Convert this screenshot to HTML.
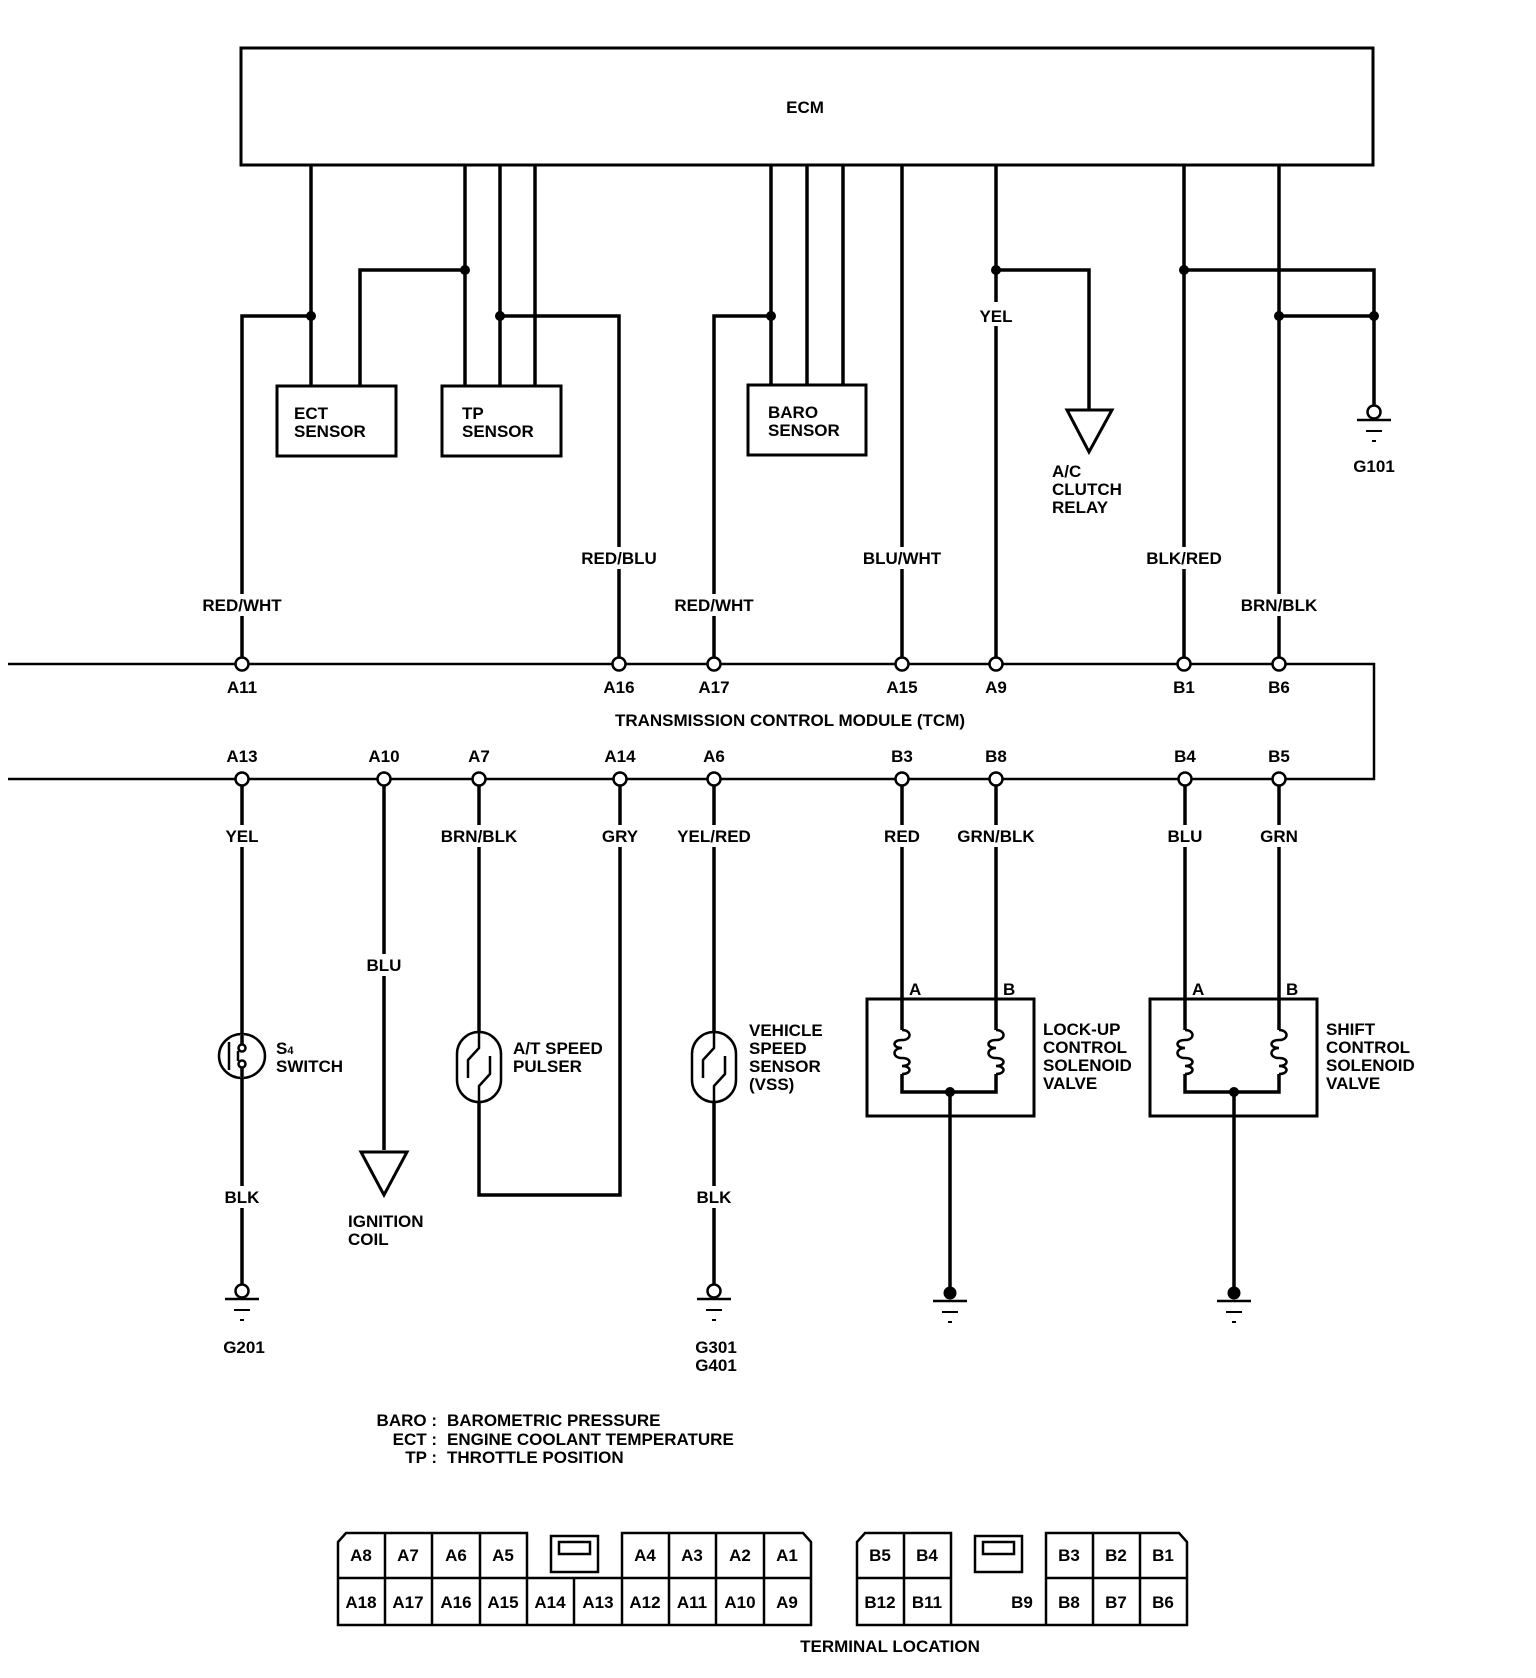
<!DOCTYPE html>
<html><head><meta charset="utf-8"><style>
html,body{margin:0;padding:0;background:#fff}
svg{display:block}
text{font-family:"Liberation Sans",sans-serif;font-weight:bold;font-size:17px;fill:#000}
</style></head><body>
<svg width="1536" height="1678" viewBox="0 0 1536 1678" xmlns="http://www.w3.org/2000/svg">
<defs>
<g id="gnd"><circle cx="0" cy="0" r="6.5" fill="#fff" stroke="#000" stroke-width="2.5"/><line x1="-17" y1="8" x2="17" y2="8" stroke="#000" stroke-width="2.5"/><line x1="-8" y1="19" x2="8" y2="19" stroke="#000" stroke-width="2"/><line x1="-2" y1="29" x2="2" y2="29" stroke="#000" stroke-width="2"/></g>
<g id="gndf"><circle cx="0" cy="0" r="6.5" fill="#000"/><line x1="-17" y1="8" x2="17" y2="8" stroke="#000" stroke-width="2.5"/><line x1="-8" y1="19" x2="8" y2="19" stroke="#000" stroke-width="2"/><line x1="-2" y1="29" x2="2" y2="29" stroke="#000" stroke-width="2"/></g>
<g id="coil"><path d="M0,-22 C10,-22 10,-12 0,-12 C-10,-12 -10,-4 0,-4 C-10,-4 -10,6 0,6 C10,6 10,14 0,14 C10,14 10,22 0,22" fill="none" stroke="#000" stroke-width="2.5"/></g>
</defs>
<g fill="none" stroke="#000" stroke-width="3.5">
<rect x="241" y="48" width="1132" height="117" stroke-width="3"/>
<rect x="277" y="386" width="119" height="70" stroke-width="3"/>
<rect x="442" y="386" width="119" height="70" stroke-width="3"/>
<rect x="748" y="385" width="118" height="70" stroke-width="3"/>
<polyline points="311,165 311,386"/>
<polyline points="242,662 242,316 311,316"/>
<polyline points="465,165 465,386"/>
<polyline points="465,270 360,270 360,386"/>
<polyline points="500,165 500,386"/>
<polyline points="535,165 535,386"/>
<polyline points="500,316 619,316 619,662"/>
<polyline points="771,165 771,385"/>
<polyline points="807,165 807,385"/>
<polyline points="843,165 843,385"/>
<polyline points="771,316 714,316 714,662"/>
<polyline points="902,165 902,662"/>
<polyline points="996,165 996,302"/>
<polyline points="996,326 996,662"/>
<polyline points="996,270 1089,270 1089,410"/>
<polygon points="1067,410 1112,410 1089,452" stroke-width="3"/>
<polyline points="1184,165 1184,662"/>
<polyline points="1184,270 1374,270 1374,406"/>
<polyline points="1279,165 1279,662"/>
<polyline points="1279,316 1374,316"/>
<polyline points="8,664 1374,664 1374,779 8,779" stroke-width="2.5"/>
<polyline points="242,779 242,1284"/>
<polyline points="384,779 384,1150"/>
<polygon points="361,1152 407,1152 384,1195" stroke-width="3"/>
<polyline points="479,779 479,1195 620,1195 620,779"/>
<polyline points="714,779 714,1284"/>
<polyline points="902,779 902,1030"/>
<polyline points="996,779 996,1030"/>
<polyline points="902,1074 902,1092 996,1092 996,1074"/>
<polyline points="950,1092 950,1290"/>
<rect x="867" y="999" width="167" height="117" stroke-width="3"/>
<polyline points="1185,779 1185,1030"/>
<polyline points="1279,779 1279,1030"/>
<polyline points="1185,1074 1185,1092 1279,1092 1279,1074"/>
<polyline points="1234,1092 1234,1290"/>
<rect x="1150" y="999" width="167" height="117" stroke-width="3"/>
</g>
<g fill="#fff">
<rect x="195" y="594" width="95" height="22"/><rect x="574" y="547" width="90" height="22"/>
<rect x="668" y="594" width="95" height="22"/><rect x="855" y="547" width="95" height="22"/>
<rect x="1139" y="547" width="90" height="22"/><rect x="1232" y="594" width="95" height="22"/>
<rect x="222" y="825" width="40" height="22"/><rect x="430" y="825" width="96" height="22"/>
<rect x="600" y="825" width="40" height="22"/><rect x="670" y="825" width="90" height="22"/>
<rect x="880" y="825" width="44" height="22"/><rect x="950" y="825" width="92" height="22"/>
<rect x="1165" y="825" width="40" height="22"/><rect x="1257" y="825" width="44" height="22"/>
<rect x="366" y="954" width="38" height="22"/><rect x="222" y="1186" width="40" height="22"/><rect x="694" y="1186" width="40" height="22"/>
</g>
<g fill="#fff">
<rect x="892" y="1030" width="20" height="44"/><rect x="986" y="1030" width="20" height="44"/>
<rect x="1175" y="1030" width="20" height="44"/><rect x="1269" y="1030" width="20" height="44"/>
</g>
<use href="#coil" x="902" y="1052"/><use href="#coil" x="996" y="1052"/>
<use href="#coil" x="1185" y="1052"/><use href="#coil" x="1279" y="1052"/>
<g stroke="#000" stroke-width="2.5" fill="#fff">
<ellipse cx="242" cy="1056" rx="23" ry="22"/>
<line x1="229" y1="1042" x2="229" y2="1070"/>
<line x1="242" y1="1034" x2="242" y2="1078" stroke="#fff" stroke-width="4"/>
<circle cx="242" cy="1048" r="3.5"/><circle cx="242" cy="1064" r="3.5"/>
<line x1="238" y1="1051" x2="238" y2="1061"/>
<line x1="242" y1="1034" x2="242" y2="1044" stroke-width="3.5"/><line x1="242" y1="1068" x2="242" y2="1078" stroke-width="3.5"/>
</g>
<g stroke="#000" stroke-width="2.5" fill="#fff">
<rect x="457" y="1032" width="44" height="70" rx="22"/>
<polyline points="479,1032 479,1048 468,1060 468,1078" fill="none"/>
<polyline points="479,1102 479,1086 490,1074 490,1056" fill="none"/>
<rect x="692" y="1032" width="44" height="70" rx="22"/>
<polyline points="714,1032 714,1048 703,1060 703,1078" fill="none"/>
<polyline points="714,1102 714,1086 725,1074 725,1056" fill="none"/>
</g>
<g fill="#000">
<circle cx="311" cy="316" r="5"/><circle cx="465" cy="270" r="5"/><circle cx="500" cy="316" r="5"/>
<circle cx="771" cy="316" r="5"/><circle cx="996" cy="270" r="5"/><circle cx="1184" cy="270" r="5"/>
<circle cx="1279" cy="316" r="5"/><circle cx="1374" cy="316" r="5"/>
<circle cx="950" cy="1092" r="5"/><circle cx="1234" cy="1092" r="5"/>
</g>
<g fill="#fff" stroke="#000" stroke-width="2.5">
<circle cx="242" cy="664" r="6.5"/><circle cx="619" cy="664" r="6.5"/><circle cx="714" cy="664" r="6.5"/>
<circle cx="902" cy="664" r="6.5"/><circle cx="996" cy="664" r="6.5"/><circle cx="1184" cy="664" r="6.5"/><circle cx="1279" cy="664" r="6.5"/>
<circle cx="242" cy="779" r="6.5"/><circle cx="384" cy="779" r="6.5"/><circle cx="479" cy="779" r="6.5"/><circle cx="620" cy="779" r="6.5"/>
<circle cx="714" cy="779" r="6.5"/><circle cx="902" cy="779" r="6.5"/><circle cx="996" cy="779" r="6.5"/><circle cx="1185" cy="779" r="6.5"/><circle cx="1279" cy="779" r="6.5"/>
</g>
<use href="#gnd" x="1374" y="412"/>
<use href="#gnd" x="242" y="1291"/>
<use href="#gnd" x="714" y="1291"/>
<use href="#gndf" x="950" y="1293"/>
<use href="#gndf" x="1234" y="1293"/>
<g text-anchor="middle">
<text x="805" y="113">ECM</text>
<text x="242" y="611">RED/WHT</text><text x="619" y="564">RED/BLU</text><text x="714" y="611">RED/WHT</text>
<text x="902" y="564">BLU/WHT</text><text x="996" y="322">YEL</text><text x="1184" y="564">BLK/RED</text><text x="1279" y="611">BRN/BLK</text>
<text x="242" y="693">A11</text><text x="619" y="693">A16</text><text x="714" y="693">A17</text><text x="902" y="693">A15</text>
<text x="996" y="693">A9</text><text x="1184" y="693">B1</text><text x="1279" y="693">B6</text>
<text x="790" y="726">TRANSMISSION CONTROL MODULE (TCM)</text>
<text x="242" y="762">A13</text><text x="384" y="762">A10</text><text x="479" y="762">A7</text><text x="620" y="762">A14</text>
<text x="714" y="762">A6</text><text x="902" y="762">B3</text><text x="996" y="762">B8</text><text x="1185" y="762">B4</text><text x="1279" y="762">B5</text>
<text x="242" y="842">YEL</text><text x="479" y="842">BRN/BLK</text><text x="620" y="842">GRY</text><text x="714" y="842">YEL/RED</text>
<text x="902" y="842">RED</text><text x="996" y="842">GRN/BLK</text><text x="1185" y="842">BLU</text><text x="1279" y="842">GRN</text>
<text x="384" y="971">BLU</text><text x="242" y="1203">BLK</text><text x="714" y="1203">BLK</text>
<text x="1374" y="472">G101</text><text x="244" y="1353">G201</text><text x="716" y="1353">G301</text><text x="716" y="1371">G401</text>
<text x="890" y="1652">TERMINAL LOCATION</text>
</g>
<g>
<text x="294" y="419">ECT</text><text x="294" y="437">SENSOR</text>
<text x="462" y="419">TP</text><text x="462" y="437">SENSOR</text>
<text x="768" y="418">BARO</text><text x="768" y="436">SENSOR</text>
<text x="1052" y="477">A/C</text><text x="1052" y="495">CLUTCH</text><text x="1052" y="513">RELAY</text>
<text x="276" y="1054">S<tspan font-size="11">4</tspan></text><text x="276" y="1072">SWITCH</text>
<text x="513" y="1054">A/T SPEED</text><text x="513" y="1072">PULSER</text>
<text x="749" y="1036">VEHICLE</text><text x="749" y="1054">SPEED</text><text x="749" y="1072">SENSOR</text><text x="749" y="1090">(VSS)</text>
<text x="1043" y="1035">LOCK-UP</text><text x="1043" y="1053">CONTROL</text><text x="1043" y="1071">SOLENOID</text><text x="1043" y="1089">VALVE</text>
<text x="1326" y="1035">SHIFT</text><text x="1326" y="1053">CONTROL</text><text x="1326" y="1071">SOLENOID</text><text x="1326" y="1089">VALVE</text>
<text x="909" y="995" font-size="15">A</text><text x="1003" y="995" font-size="15">B</text>
<text x="1192" y="995" font-size="15">A</text><text x="1286" y="995" font-size="15">B</text>
<text x="348" y="1227">IGNITION</text><text x="348" y="1245">COIL</text>
<text x="437" y="1426" text-anchor="end">BARO :</text><text x="447" y="1426">BAROMETRIC PRESSURE</text>
<text x="437" y="1445" text-anchor="end">ECT :</text><text x="447" y="1445">ENGINE COOLANT TEMPERATURE</text>
<text x="437" y="1463" text-anchor="end">TP :</text><text x="447" y="1463">THROTTLE POSITION</text>
</g>
<g fill="none" stroke="#000" stroke-width="2.5">
<path d="M527,1578 L527,1533 L346,1533 L338,1542 L338,1625 L811,1625 L811,1542 L803,1533 L622,1533 L622,1578"/>
<line x1="338" y1="1578" x2="811" y2="1578"/>
<line x1="385" y1="1533" x2="385" y2="1625"/><line x1="432" y1="1533" x2="432" y2="1625"/><line x1="480" y1="1533" x2="480" y2="1625"/>
<line x1="527" y1="1578" x2="527" y2="1625"/><line x1="574" y1="1578" x2="574" y2="1625"/><line x1="622" y1="1578" x2="622" y2="1625"/>
<line x1="669" y1="1533" x2="669" y2="1625"/><line x1="716" y1="1533" x2="716" y2="1625"/><line x1="764" y1="1533" x2="764" y2="1625"/>
<rect x="551" y="1536" width="47" height="36"/><rect x="559" y="1542" width="31" height="12"/>
<path d="M951,1578 L951,1533 L865,1533 L857,1542 L857,1625 L1187,1625 L1187,1542 L1179,1533 L1046,1533 L1046,1578"/>
<line x1="857" y1="1578" x2="951" y2="1578"/><line x1="1046" y1="1578" x2="1187" y2="1578"/>
<line x1="904" y1="1533" x2="904" y2="1625"/><line x1="951" y1="1578" x2="951" y2="1625"/>
<line x1="1093" y1="1533" x2="1093" y2="1625"/><line x1="1140" y1="1533" x2="1140" y2="1625"/>
<line x1="1046" y1="1578" x2="1046" y2="1625"/>
<rect x="975" y="1536" width="47" height="36"/><rect x="983" y="1542" width="31" height="12"/>
</g>
<g text-anchor="middle">
<text x="361" y="1561" font-size="19">A8</text><text x="408" y="1561" font-size="19">A7</text><text x="456" y="1561" font-size="19">A6</text><text x="503" y="1561" font-size="19">A5</text>
<text x="645" y="1561" font-size="19">A4</text><text x="692" y="1561" font-size="19">A3</text><text x="740" y="1561" font-size="19">A2</text><text x="787" y="1561" font-size="19">A1</text>
<text x="361" y="1608" font-size="19">A18</text><text x="408" y="1608" font-size="19">A17</text><text x="456" y="1608" font-size="19">A16</text><text x="503" y="1608" font-size="19">A15</text>
<text x="550" y="1608" font-size="19">A14</text><text x="598" y="1608" font-size="19">A13</text><text x="645" y="1608" font-size="19">A12</text><text x="692" y="1608" font-size="19">A11</text>
<text x="740" y="1608" font-size="19">A10</text><text x="787" y="1608" font-size="19">A9</text>
<text x="880" y="1561" font-size="19">B5</text><text x="927" y="1561" font-size="19">B4</text>
<text x="1069" y="1561" font-size="19">B3</text><text x="1116" y="1561" font-size="19">B2</text><text x="1163" y="1561" font-size="19">B1</text>
<text x="880" y="1608" font-size="19">B12</text><text x="927" y="1608" font-size="19">B11</text><text x="1022" y="1608" font-size="19">B9</text>
<text x="1069" y="1608" font-size="19">B8</text><text x="1116" y="1608" font-size="19">B7</text><text x="1163" y="1608" font-size="19">B6</text>
</g>
</svg>
</body></html>
